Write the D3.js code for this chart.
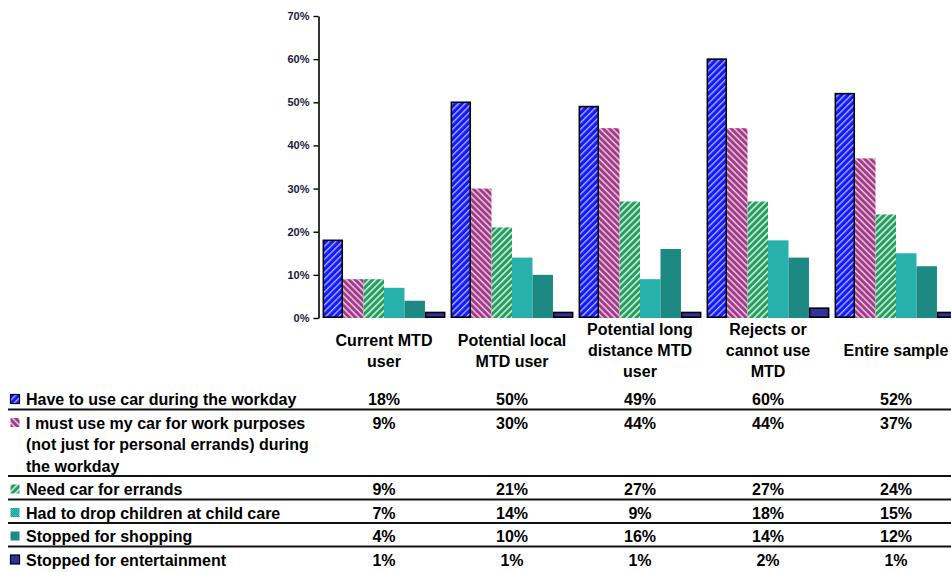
<!DOCTYPE html>
<html><head><meta charset="utf-8">
<script src="https://cdn.jsdelivr.net/npm/d3@7"></script>
<style>
html,body{margin:0;padding:0;background:#fff;}
svg{display:block;font-family:"Liberation Sans",Arial,sans-serif;font-weight:bold;}
</style></head>
<body><svg id="c" width="951" height="572"></svg>
<script>
const categories = ["Current MTD user","Potential local MTD user","Potential long distance MTD user","Rejects or cannot use MTD","Entire sample"];
const categoryLines = [["Current MTD","user"],["Potential local","MTD user"],["Potential long","distance MTD","user"],["Rejects or","cannot use","MTD"],["Entire sample"]];
const seriesNames = ["Have to use car during the workday","I must use my car for work purposes (not just for personal errands) during the workday","Need car for errands","Had to drop children at child care","Stopped for shopping","Stopped for entertainment"];
const seriesLines = [["Have to use car during the workday"],["I must use my car for work purposes","(not just for personal errands) during","the workday"],["Need car for errands"],["Had to drop children at child care"],["Stopped for shopping"],["Stopped for entertainment"]];
const haveToUseCar   = [18,50,49,60,52];
const workPurposes   = [9,30,44,44,37];
const errands        = [9,21,27,27,24];
const childCare      = [7,14,9,18,15];
const shopping       = [4,10,16,14,12];
const entertainment  = [1,1,1,2,1];
const series = [haveToUseCar, workPurposes, errands, childCare, shopping, entertainment];
const yTicks = [0,10,20,30,40,50,60,70];

const svg = d3.select("#c");
const defs = svg.append("defs");
function stripe(id, base, line, angle, period, lw){
  const p = defs.append("pattern").attr("id",id).attr("patternUnits","userSpaceOnUse")
    .attr("width",period).attr("height",period).attr("patternTransform",`rotate(${angle})`);
  p.append("rect").attr("width",period).attr("height",period).attr("fill",base);
  p.append("rect").attr("width",period).attr("height",lw).attr("fill",line);
}
stripe("p0","#1717ff","#9db4ff",-45,4.6,1.4);
stripe("p1","#a03a7a","#dcb0e4",45,4.4,1.8);
stripe("p2","#23977c","#c6f0a4",-45,4.6,1.7);
(function(){
  const p = defs.append("pattern").attr("id","p3").attr("patternUnits","userSpaceOnUse").attr("width",2).attr("height",2);
  p.append("rect").attr("width",2).attr("height",2).attr("fill","#12a4a2");
  p.append("rect").attr("width",1).attr("height",1).attr("fill","#3cbdb6");
  p.append("rect").attr("x",1).attr("y",1).attr("width",1).attr("height",1).attr("fill","#3cbdb6");
})();
const fills = ["url(#p0)","url(#p1)","url(#p2)","url(#p3)","#1c8a82","#32329c"];
const strokes = ["#000","none","none","none","none","#000"];

const y = d3.scaleLinear().domain([0,70]).range([318,16]);
const x0 = d3.scaleBand().domain(categories).range([320,960]).paddingInner(0.04).paddingOuter(0.02);
const x1 = d3.scaleBand().domain(d3.range(series.length)).range([0,x0.bandwidth()]);

// bars
categories.forEach((c,ci)=>{
  const g = svg.append("g").attr("transform",`translate(${x0(c)},0)`);
  series.forEach((s,si)=>{
    const v = s[ci];
    const r = g.append("rect").attr("x",x1(si)).attr("width",x1.bandwidth())
      .attr("y",y(v)).attr("height",y(0)-y(v)).attr("fill",fills[si]);
    if(strokes[si]!=="none"){
      const ext = si===5 ? 1.2 : 0;
      r.attr("stroke",strokes[si]).attr("stroke-width",1.6)
       .attr("x",x1(si)+0.8).attr("width",x1.bandwidth()-1.6)
       .attr("y",y(v)-ext).attr("height",y(0)-y(v)+ext-0.8);
    }
  });
});

// y axis
const ya = svg.append("g").attr("transform","translate(318.5,0)")
  .call(d3.axisLeft(y).tickValues(yTicks).tickFormat(d=>d+"%").tickSize(5).tickSizeOuter(0));
ya.select(".domain").attr("stroke","#000").attr("stroke-width",1.6);
ya.selectAll(".tick line").attr("stroke","#000").attr("stroke-width",1.4);
ya.selectAll(".tick text").attr("font-size",11).attr("font-weight","bold").attr("fill","#1a1a3a")
  .attr("font-family","'Liberation Sans',Arial,sans-serif").attr("x",-9);

// category labels
categories.forEach((c,ci)=>{
  const cx = x0(c)+x0.bandwidth()/2;
  const lines = categoryLines[ci];
  const lh = 21, cy = 350;
  const t = svg.append("text").attr("text-anchor","middle").attr("font-size",16).attr("fill","#000");
  lines.forEach((l,li)=>{
    t.append("tspan").attr("x",cx).attr("y",cy - (lines.length-1)*lh/2 + li*lh + 6).text(l);
  });
});

// table
let cy = 399;
const keyW = 9;
seriesNames.forEach((n,si)=>{
  const lines = seriesLines[si];
  const lh = 21.5;
  svg.append("rect").attr("x",10.5).attr("y",cy-4.5).attr("width",keyW).attr("height",keyW)
    .attr("fill",fills[si]).attr("stroke",strokes[si]==="none"?"none":"#000").attr("stroke-width",1.2);
  const t = svg.append("text").attr("font-size",16).attr("fill","#000");
  lines.forEach((l,li)=>t.append("tspan").attr("x",26).attr("y",cy+li*lh+6).text(l));
  categories.forEach((c,ci)=>{
    svg.append("text").attr("x",x0(c)+x0.bandwidth()/2).attr("y",cy+6).attr("text-anchor","middle")
      .attr("font-size",16).attr("fill","#000").text(series[si][ci]+"%");
  });
  const last = cy + (lines.length-1)*lh;
  if(si<seriesNames.length-1){
    svg.append("line").attr("x1",8).attr("x2",951).attr("y1",last+10.5).attr("y2",last+10.5)
      .attr("stroke","#111").attr("stroke-width",1.8);
  }
  cy = last + 23.5;
});
</script></body></html>
